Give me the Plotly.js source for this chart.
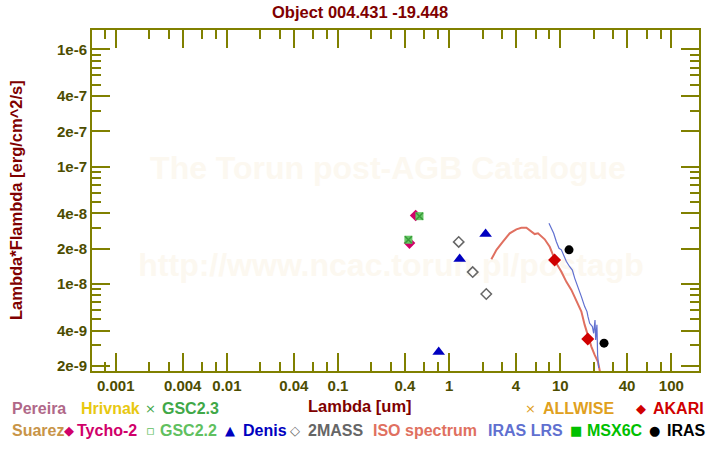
<!DOCTYPE html>
<html><head><meta charset="utf-8">
<script src="https://cdn.plot.ly/plotly-3.0.1.min.js"></script>
<style>html,body{margin:0;padding:0;background:#fff}#chart{width:720px;height:450px}</style>
</head><body><div id="chart"></div>
<script>
// ---- data (wavelength in um, lambda*F_lambda in erg/cm^2/s) ----
const tychoX = [0.44, 0.50];
const tychoY = [2.23e-8, 3.83e-8];
const gsc22X = [0.430, 0.541];
const gsc22Y = [2.38e-8, 3.78e-8];
const gsc23X = [0.430, 0.541];
const gsc23Y = [2.38e-8, 3.78e-8];
const denisX = [0.806, 1.245, 2.13];
const denisY = [2.62e-9, 1.63e-8, 2.66e-8];
const massX = [1.22, 1.63, 2.16];
const massY = [2.28e-8, 1.26e-8, 8.19e-9];
const akariX = [8.9, 17.7];
const akariY = [1.60e-8, 3.39e-9];
const irasX = [12.0, 24.8];
const irasY = [1.95e-8, 3.12e-9];
const isoX = [2.40, 2.67, 3.05, 3.51, 4.03, 4.47, 4.96, 5.50, 5.89, 6.31, 7.25, 8.04, 8.61, 9.23, 10.24, 11.36, 12.60, 13.97, 15.50, 16.60, 17.78, 19.06, 20.42, 21.87, 23.1];
const isoY = [1.62e-8, 1.95e-8, 2.29e-8, 2.70e-8, 2.92e-8, 3.01e-8, 3.01e-8, 2.79e-8, 2.66e-8, 2.70e-8, 2.40e-8, 2.07e-8, 1.76e-8, 1.50e-8, 1.27e-8, 1.04e-8, 8.88e-9, 7.29e-9, 5.80e-9, 4.47e-9, 3.55e-9, 2.92e-9, 2.48e-9, 2.16e-9, 1.67e-9];
const lrsX = [7.92, 8.33, 8.73, 9.23, 9.75, 10.24, 10.59, 11.36, 12.17, 12.86, 13.49, 14.45, 15.50, 16.60, 17.41, 17.78, 18.41, 19.47, 20.00, 20.56, 20.84, 21.4, 21.7, 22.2];
const lrsY = [3.29e-8, 2.98e-8, 2.70e-8, 2.29e-8, 2.01e-8, 1.95e-8, 1.82e-8, 1.55e-8, 1.40e-8, 1.31e-8, 1.12e-8, 9.47e-9, 7.78e-9, 6.40e-9, 5.80e-9, 5.25e-9, 4.61e-9, 4.32e-9, 3.79e-9, 4.92e-9, 3.33e-9, 4.47e-9, 2.48e-9, 1.92e-9];

const xTickVals = [0.001, 0.004, 0.01, 0.04, 0.1, 0.4, 1, 4, 10, 40, 100];
const xTickText = ['0.001', '0.004', '0.01', '0.04', '0.1', '0.4', '1', '4', '10', '40', '100'];
const yTickVals = [1e-6, 4e-7, 2e-7, 1e-7, 4e-8, 2e-8, 1e-8, 4e-9, 2e-9];
const yTickText = ['1e-6', '4e-7', '2e-7', '1e-7', '4e-8', '2e-8', '1e-8', '4e-9', '2e-9'];
const xMinorMant = [2, 3, 6, 8];
const yMinorMant = [3, 5, 6, 7, 8, 9];

const watermarks = ['The Torun post-AGB Catalogue', 'http://www.ncac.torun.pl/postagb'];
const legendRow1Names = ['Pereira', 'Hrivnak', 'GSC2.3', 'ALLWISE', 'AKARI'];
const legendRow1Syms = ['', '', '\u00d7', '\u00d7', '\u25c6'];
const legendRow2Names = ['Suarez', 'Tycho-2', 'GSC2.2', 'Denis', '2MASS', 'ISO spectrum', 'IRAS LRS', 'MSX6C', 'IRAS'];
const legendRow2Syms = ['', '\u25c6', '\u25ab', '\u25b2', '\u25c7', '', '', '\u25a0', '\u25cf'];

// ---- layout helpers ----
const W = 720, H = 450, ML = 92, MR = 21, MT = 30, MB = 79;
const px = x => (x - ML) / (W - ML - MR);
const py = y => 1 - (y - MT) / (H - MT - MB);
const minorVals = (mants, e0, e1) => { const v = []; for (let e = e0; e <= e1; e++) for (const m of mants) v.push(m * Math.pow(10, e)); return v; };

const olive = '#808000', tickCol = '#4d4d00', dred = '#800000';
const FONT = 'Liberation Sans, Arial, sans-serif';

const traces = [
  {x: tychoX, y: tychoY, mode: 'markers', marker: {symbol: 'diamond', size: 9, color: '#d0006a'}},
  {x: gsc22X, y: gsc22Y, mode: 'markers', marker: {symbol: 'square', size: 8, color: '#66c866', line: {width: 0}}},
  {x: gsc23X, y: gsc23Y, mode: 'markers', marker: {symbol: 'x-thin', size: 7, color: '#3a9a3a', line: {width: 1.5, color: '#3a9a3a'}}},
  {x: isoX, y: isoY, mode: 'lines', line: {color: '#e07060', width: 2}},
  {x: lrsX, y: lrsY, mode: 'lines', line: {color: '#6070d0', width: 1.2}},
  {x: denisX, y: denisY, mode: 'markers', marker: {symbol: 'triangle-up', size: 11, color: '#0000c0'}},
  {x: massX, y: massY, mode: 'markers', marker: {symbol: 'diamond-open', size: 8, color: '#666666', line: {width: 1.5}}},
  {x: akariX, y: akariY, mode: 'markers', marker: {symbol: 'diamond', size: 10, color: '#d00000'}},
  {x: irasX, y: irasY, mode: 'markers', marker: {symbol: 'circle', size: 9, color: '#000000'}}
];

// watermark as labels of invisible shapes drawn below the traces
const wmY = [165, 262], wmX = [388, 391];
const shapes = watermarks.map((t, i) => ({
  type: 'rect', layer: 'below', xref: 'paper', yref: 'paper',
  x0: px(wmX[i] - 280), x1: px(wmX[i] + 280), y0: py(wmY[i] + 20), y1: py(wmY[i] - 20),
  line: {width: 0}, fillcolor: 'rgba(0,0,0,0)',
  label: {text: '<b>' + t + '</b>', textposition: 'middle center', font: {size: 32, color: '#fcf8f0', family: FONT}}
}));

const ann = [];
ann.push({text: '<b>Object 004.431 -19.448</b>', x: px(360), y: py(12), font: {size: 16.5, color: dred, family: FONT}});
ann.push({text: '<b>Lambda [um]</b>', x: px(360), y: py(406), font: {size: 16.5, color: dred, family: FONT}});
ann.push({text: '<b>Lambda*Flambda [erg/cm^2/s]</b>', x: px(16), y: py(200), textangle: -90, font: {size: 16.5, color: dred, family: FONT}});

// legend (symbol centre x, name left x)
const row1SymX = [0, 0, 150, 530, 641];
const row1TxtX = [10, 79, 160, 541, 651];
const row1C = ['#b06888', '#e8c810', '#40a848', '#e0a020', '#d00000'];
const row2SymX = [0, 69, 150, 230, 295, 0, 0, 576, 654];
const row2TxtX = [10, 75, 158, 241, 306, 371, 486, 585, 665];
const row2C = ['#c89448', '#d0006a', '#60c060', '#0000c0', '#666666', '#e07060', '#6070d0', '#00c000', '#000000'];
function addRow(names, syms, symX, txtX, cols, yy) {
  names.forEach((t, i) => {
    ann.push({text: '<b>' + t + '</b>', x: px(txtX[i]), y: py(yy), xanchor: 'left', font: {size: 16, color: cols[i], family: FONT}});
    if (syms[i]) ann.push({text: syms[i], x: px(symX[i]), y: py(yy), xanchor: 'center', font: {size: 13, color: cols[i], family: 'DejaVu Sans, sans-serif'}});
  });
}
addRow(legendRow1Names, legendRow1Syms, row1SymX, row1TxtX, row1C, 409);
addRow(legendRow2Names, legendRow2Syms, row2SymX, row2TxtX, row2C, 430);
ann.forEach(a => { a.xref = 'paper'; a.yref = 'paper'; a.showarrow = false; if (!a.xanchor) a.xanchor = 'center'; a.yanchor = 'middle'; });

const layout = {
  width: W, height: H,
  margin: {l: ML, r: MR, t: MT, b: MB, pad: 0},
  paper_bgcolor: '#ffffff', plot_bgcolor: '#ffffff',
  showlegend: false,
  xaxis: {
    type: 'log', range: [-3.214, 2.249], showgrid: false, zeroline: false,
    showline: true, linecolor: olive, linewidth: 2, mirror: 'ticks',
    ticks: 'inside', ticklen: 18, tickwidth: 2, tickcolor: olive,
    tickmode: 'array', tickvals: xTickVals, ticktext: xTickText,
    tickfont: {size: 15, color: tickCol, family: FONT, weight: 'bold'},
    minor: {tickmode: 'array', tickvals: minorVals(xMinorMant, -4, 2), ticklen: 9, tickwidth: 2, tickcolor: olive, ticks: 'inside', showgrid: false}
  },
  yaxis: {
    type: 'log', range: [-8.743, -5.835], showgrid: false, zeroline: false,
    showline: true, linecolor: olive, linewidth: 2, mirror: 'ticks',
    ticks: 'inside', ticklen: 18, tickwidth: 2, tickcolor: olive,
    tickmode: 'array', tickvals: yTickVals, ticktext: yTickText,
    tickfont: {size: 15, color: tickCol, family: FONT, weight: 'bold'},
    minor: {tickmode: 'array', tickvals: minorVals(yMinorMant, -10, -6), ticklen: 9, tickwidth: 2, tickcolor: olive, ticks: 'inside', showgrid: false}
  },
  shapes: shapes,
  annotations: ann
};

Plotly.newPlot('chart', traces, layout, {staticPlot: true, displayModeBar: false});
</script></body></html>
